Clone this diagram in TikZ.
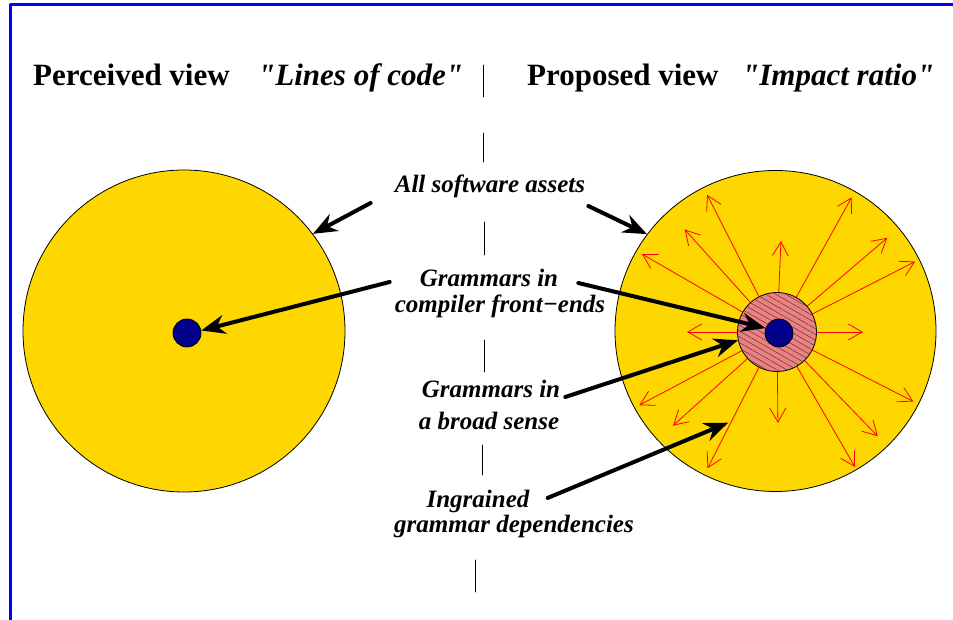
\documentclass[tikz,border=0pt]{standalone}
\usepackage{fontspec}
\setmainfont{Liberation Serif}
\newfontfamily\rawserif{Liberation Serif}
\newcommand{\dq}{{\rawserif"}}
\usetikzlibrary{arrows.meta,calc,patterns.meta}
\definecolor{gold}{RGB}{255,215,0}
\definecolor{salmonred}{RGB}{240,128,128}
\definecolor{darkblue}{RGB}{0,0,139}
\definecolor{frameblue}{RGB}{0,0,255}

\begin{document}
\begin{tikzpicture}[line cap=round,line join=round,x=1pt,y=1pt,
  disk/.style={circle,draw=black,line width=0.8pt,fill=gold,inner sep=0pt},
  core/.style={circle,draw=black,line width=0.8pt,fill=darkblue,minimum size=28pt,inner sep=0pt},
  title/.style={font=\fontsize{31}{36}\selectfont\bfseries,anchor=base west,inner sep=0pt},
  titleit/.style={title,font=\fontsize{31}{36}\selectfont\bfseries\itshape},
  lbl/.style={font=\fontsize{25}{28}\selectfont\bfseries\itshape,anchor=base,inner sep=0pt},
  bigarrow/.style={line width=4pt,-{Stealth[length=24pt,width=19pt]}},
  ray/.style={red,line width=0.8pt,-{Straight Barb[length=14pt,width=16pt]}}]
\useasboundingbox (0,0) rectangle (953,620);
% frame
\draw [frameblue,line width=3pt,line cap=butt] (953,615) -- (10,615) -- (10,0);
% perceived view
\node[disk,minimum size=322pt] (cl) at (184,289) {};
\node[core] (dl) at (187,287) {};
% proposed view
\node[disk,minimum size=321pt] (cr) at (775.5,289) {};
\coordinate (hub) at (777,288);
\foreach \a/\l in {117/154,61/154,132/138,40.5/145,150/156,27/155,87.5/91,180/90,
                   0/86,208/156,333/153,222/140,314/145,270.6/91,243/153,300/156}
  \draw[ray] ($(hub)+(\a:39.5)$) -- ($(hub)+(\a:\l)$);
\node[circle,draw=black,line width=0.8pt,fill=salmonred,minimum size=79pt,inner sep=0pt,
  postaction={pattern={Lines[angle=-30,distance=5pt,line width=0.5pt]},pattern color=black!75}] (gb) at (hub) {};
\node[core] (dr) at (779,287) {};
% separator
\foreach \x/\ya/\yb in {483/555/523,483/487/458,484/398/365,484/280/248,482/175/145,475/60/28}
  \draw [line width=0.8pt] (\x,\ya) -- (\x,\yb);
% titles
\node[title] (pv) at (33,534) {Perceived view};
\node[titleit] (loc) at (258,534) {\dq Lines of code\dq};
\node[title] (prv) at (527,534) {Proposed view};
\node[titleit] (ir) at (742,534) {\dq Impact ratio\dq};
% labels
\node[lbl] (sa) at (490,427) {All software assets};
\node[lbl] (gc1) at (489,333) {Grammars in};
\node[lbl] (gc2) at (500,307) {compiler front−ends};
\node[lbl] (gb1) at (491,222) {Grammars in};
\node[lbl] (gb2) at (489,190) {a broad sense};
\node[lbl] (gd1) at (478,112) {Ingrained};
\node[lbl] (gd2) at (514,87) {grammar dependencies};
\coordinate (dep) at ($(hub)+(241.7:103)$);
% arrows
\draw[bigarrow] ($(sa.base west)+(-24,-10)$) -- (cl.37.5);
\draw[bigarrow] ($(sa.base east)+(3,-13)$) -- (cr.143);
\draw[bigarrow] ($(gc1.base west)+(-30,5)$) -- (dl.10);
\draw[bigarrow] ($(gc1.base east)+(20,4)$) -- (dr.160);
\draw[bigarrow] ($(gb1.base east)+(5,1)$) -- (gb.192);
\draw[bigarrow] ($(gd1.base east)+(18,10)$) -- (dep);
\end{tikzpicture}
\end{document}
